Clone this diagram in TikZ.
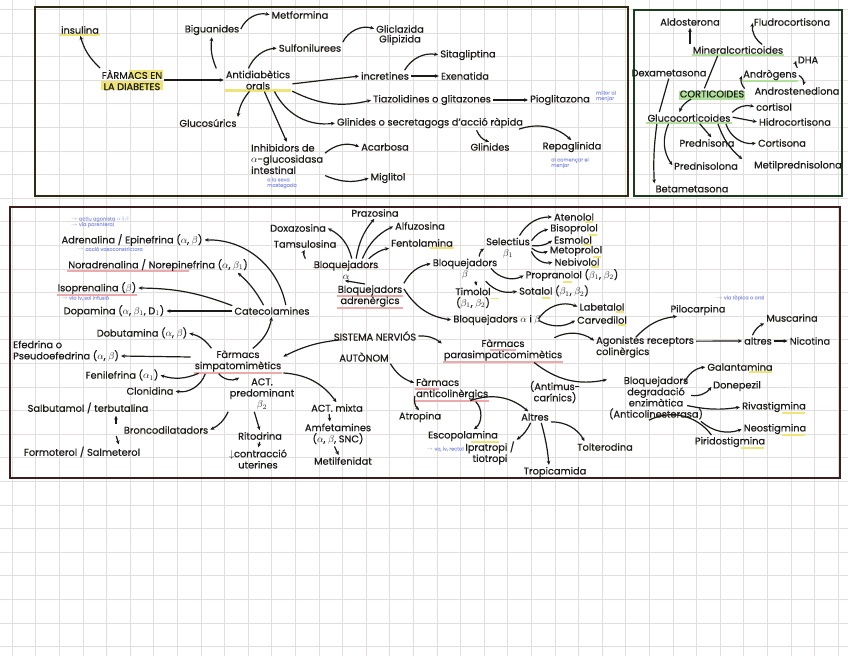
\documentclass[tikz,border=0pt]{standalone}
\usepackage{fontspec}
\setmainfont{Poppins}[FakeBold=0.5]
\usetikzlibrary{arrows.meta,backgrounds}
\definecolor{inkcolor}{RGB}{28, 26, 24}
\definecolor{gridcolor}{RGB}{226, 222, 222}
\definecolor{yellowmark}{RGB}{238, 228, 120}
\definecolor{redmark}{RGB}{236, 170, 170}
\definecolor{greenmark}{RGB}{176, 224, 156}
\definecolor{diabframe}{RGB}{48, 44, 20}
\definecolor{cortframe}{RGB}{30, 60, 30}
\definecolor{snaframe}{RGB}{60, 30, 30}
\definecolor{notecolor}{RGB}{150, 160, 230}

\begin{document}
\begin{tikzpicture}[
    x=1pt, y=-1pt,
    every node/.style={font=\fontsize{9.8}{11.2}\selectfont, inner sep=1pt, align=center, text=inkcolor},
    note/.style={font=\fontsize{5}{5.5}\selectfont, text=notecolor, align=left},
    arr/.style={-{Stealth[length=4pt,width=3.6pt]}, line width=1.2pt, draw=inkcolor, shorten >=1pt, shorten <=1pt},
    lin/.style={line width=1.2pt, draw=inkcolor, shorten >=1pt, shorten <=1pt},
    ymark/.style={line width=2.4pt, draw=yellowmark},
    rmark/.style={line width=1.3pt, draw=redmark},
    gmark/.style={line width=1.8pt, draw=greenmark},
    frame/.style={line width=1.6pt}
]
\useasboundingbox (0,0) rectangle (848,656);
\begin{scope}[on background layer]
\fill[white] (0,0) rectangle (848,656);
\foreach \gx in {0,...,35} \draw[gridcolor, line width=0.9pt] (12.3+23.6*\gx,0) -- (12.3+23.6*\gx,656);
\foreach \gy in {0,...,27} \draw[gridcolor, line width=0.9pt] (0,9.4+23.6*\gy) -- (848,9.4+23.6*\gy);
\end{scope}

\draw[frame, draw=diabframe] (35,7) rectangle (628,196);
\draw[frame, draw=cortframe] (634,10) rectangle (842,196);
\draw[frame, draw=snaframe] (10,207) rectangle (840,478);

\node (insulina) at (80,30) {insulina};
\node (farmacs) at (132,80) {FÀRMACS EN\\LA DIABETES};
\node (antid) at (258,80) {Antidiabètics\\orals};
\node (bigu) at (212,30) {Biguanides};
\node (metf) at (300,15) {Metformina};
\node (sulf) at (310,48) {Sulfonilurees};
\node (glic) at (400,29) {Gliclazida};
\node (glip) at (400,40) {Glipizida};
\node (incr) at (385,76) {incretines};
\node (sita) at (468,55) {Sitagliptina};
\node (exen) at (465,76) {Exenatida};
\node (tiaz) at (432,100) {Tiazolidines o glitazones};
\node (piog) at (560,100) {Pioglitazona};
\node[note] (pionote) at (606,96) {millor al\\menjar};
\node (glsec) at (430,123) {Glinides o secretagogs d'acció ràpida};
\node (glin) at (490,147) {Glinides};
\node (repa) at (572,147) {Repaglinida};
\node[note] (repanote) at (570,163) {al començar el\\menjar};
\node (glucos) at (208,123) {Glucosúrics};
\node[anchor=west, align=left] (inhib) at (250,159) {Inhibidors de\\$\alpha$-glucosidasa\\intestinal};
\node[note] (inhibnote) at (282,183) {a la seva\\mastegada};
\node (acar) at (385,147) {Acarbosa};
\node (migl) at (388,178) {Miglitol};

\begin{scope}[on background layer]
\draw[ymark] (insulina.south west) -- (insulina.south east);
\fill[yellowmark] ([xshift=28pt,yshift=21pt]farmacs.south west) rectangle ([yshift=12pt]farmacs.south east);
\fill[yellowmark] ([yshift=10pt]farmacs.south west) rectangle ([yshift=1pt]farmacs.south east);
\draw[ymark] (antid.south west) -- (antid.south east);
\end{scope}

\draw[arr] (farmacs.north west) to[bend left=15] (insulina.south);
\draw[arr] (farmacs.east) -- (antid.west);
\draw[arr] ([xshift=-8pt]antid.north west) to[bend left=15] (bigu.south);
\draw[arr] (bigu.east) to[bend left=40] (metf.west);
\draw[arr] ([xshift=-10pt]antid.north) to[bend left=30] (sulf.west);
\draw[arr] (sulf.north east) to[bend left=40] (glic.west);
\draw[arr] ([yshift=-4pt]antid.east) -- (incr.west);
\draw[arr] ([xshift=-6pt]incr.north east) to[bend left=35] (sita.west);
\draw[arr] (incr.east) -- (exen.west);
\draw[arr] (antid.south east) to[bend right=20] (tiaz.west);
\draw[arr] (tiaz.east) -- (piog.west);
\draw[arr] ([xshift=16pt]antid.south) to[bend right=35] (glsec.west);
\draw[arr] ([xshift=-48pt]glsec.south east) to[bend right=25] (glin.north);
\draw[arr] ([xshift=-6pt]glsec.south east) to[bend left=30] (repa.north);
\draw[arr] ([xshift=-8pt]antid.south) to[bend right=15] (glucos.north east);
\draw[arr] ([xshift=6pt]antid.south) -- (inhib.north);
\draw[arr] ([yshift=-11pt]inhib.north east) to[bend left=30] (acar.west);
\draw[arr] (inhib.south east) to[bend right=20] (migl.west);

\node (aldo) at (690,22) {Aldosterona};
\node (fludro) at (792,22) {Fludrocortisona};
\node (miner) at (738,50) {Mineralcorticoides};
\node (dha) at (808,60) {DHA};
\node (andro) at (770,75) {Andrògens};
\node (androst) at (797,91) {Androstenediona};
\node (dexa) at (669,73) {Dexametasona};
\node (cortic) at (712,94) {CORTICOIDES};
\node (cortisol) at (774,107) {cortisol};
\node (gluco) at (689,118) {Glucocorticoides};
\node (hidro) at (795,122) {Hidrocortisona};
\node (predn) at (707,143) {Prednisona};
\node (cortisona) at (782,143) {Cortisona};
\node (prednl) at (706,166) {Prednisolona};
\node (metil) at (798,166) {Metilprednisolona};
\node (beta) at (692,189) {Betametasona};

\begin{scope}[on background layer]
\fill[greenmark] ([yshift=8pt]cortic.south west) rectangle ([yshift=-1pt]cortic.south east);
\draw[gmark] (miner.south west) -- (miner.south east);
\draw[gmark] (andro.south west) -- (andro.south east);
\draw[gmark] (gluco.south west) -- (gluco.south east);
\end{scope}

\draw[arr] ([xshift=-48pt]miner.north) -- (aldo.south);
\draw[arr] ([xshift=25pt]miner.north) to[bend left=30] (fludro.west);
\draw[lin] ([xshift=-8pt]cortic.north) -- ([xshift=-20pt]miner.south);
\draw[arr] (cortic.north east) to[bend left=30] (andro.west);
\draw[arr] (andro.north east) to[bend left=30] (dha.west);
\draw[arr] (andro.east) to[bend left=40] ([xshift=6pt]androst.north);
\draw[arr] ([xshift=-20pt]cortic.south) to[bend right=20] ([xshift=-10pt]gluco.north);
\draw[lin] ([xshift=-30pt]gluco.north) -- (dexa.south);
\draw[arr] (gluco.north east) to[bend left=30] (cortisol.west);
\draw[arr] ([yshift=1pt]gluco.east) -- (hidro.west);
\draw[arr] ([xshift=10pt]gluco.south) -- ([xshift=5pt]predn.north);
\draw[arr] ([xshift=-6pt]gluco.south east) to[bend right=40] (cortisona.west);
\draw[arr] ([xshift=-14pt]gluco.south east) to[bend right=15] ([xshift=-10pt]metil.north west);
\draw[arr] ([xshift=-20pt]gluco.south) to[bend right=30] (prednl.west);
\draw[arr] ([xshift=-32pt]gluco.south) to[bend right=5] (beta.north west);

\node (adren) at (132,240) {Adrenalina / Epinefrina ($\alpha$, $\beta$)};
\node (noradr) at (158,265) {Noradrenalina / Norepinefrina ($\alpha$, $\beta_1$)};
\node (isopr) at (97,288) {Isoprenalina ($\beta$)};
\node (dopa) at (114,311) {Dopamina ($\alpha$, $\beta_1$, D$_1$)};
\node (dobu) at (142,333) {Dobutamina ($\alpha$, $\beta$)};
\node (catec) at (272,311) {Catecolamines};
\node[anchor=west, align=left] (efed) at (12,351) {Efedrina o\\Pseudoefedrina ($\alpha$, $\beta$)};
\node (simp) at (238,361) {Fàrmacs\\simpatomimètics};
\node (fenil) at (122,375) {Fenilefrina ($\alpha_1$)};
\node (cloni) at (150,391) {Clonidina};
\node (salbu) at (88,408) {Salbutamol / terbutalina};
\node (actp) at (262,394) {ACT.\\predominant\\$\beta_2$};
\node (bronc) at (166,430) {Broncodilatadors};
\node (formo) at (82,452) {Formoterol / Salmeterol};
\node (rito) at (260,436) {Ritodrina};
\node (contr) at (258,459) {$\downarrow$contracció\\uterines};
\node (actm) at (337,408) {ACT. mixta};
\node (amfe) at (338,434) {Amfetamines\\($\alpha$, $\beta$, SNC)};
\node (metilf) at (343,461) {Metilfenidat};
\node[note] (adrnote) at (100,222) {$\rightarrow$ actiu agonista $\alpha$ i $\beta$\\$\rightarrow$ via parenteral};
\node[note] (noranote) at (110,249) {$\rightarrow$ acció vasoconstrictora};
\node[note] (dopanote) at (85,298) {$\rightarrow$ via iv, sol infusió};

\begin{scope}[on background layer]
\draw[rmark] (simp.south west) -- (simp.south east);
\draw[rmark] ([yshift=1pt]noradr.south west) -- ([yshift=1pt,xshift=-60pt]noradr.south east);
\draw[rmark] (isopr.south west) -- (isopr.south east);
\end{scope}

\draw[arr] ([xshift=14pt]catec.north) to[bend right=40] (adren.east);
\draw[arr] ([xshift=-8pt]catec.north) to[bend right=10] ([xshift=-12pt]noradr.south east);
\draw[arr] (catec.north west) to[bend right=10] (isopr.east);
\draw[arr] (catec.west) -- (dopa.east);
\draw[arr] ([xshift=-26pt]simp.north) to[bend right=20] (dobu.east);
\draw[arr] ([xshift=14pt]simp.north) to[bend right=20] (catec.south);
\draw[arr] ([xshift=-2pt,yshift=4pt]simp.west) -- ([yshift=-5pt]efed.east);
\draw[arr] ([xshift=6pt]simp.south west) to[bend left=20] (fenil.east);
\draw[arr] ([xshift=12pt]simp.south west) to[bend left=40] (cloni.east);
\draw[arr] ([xshift=-20pt]simp.south) to[bend right=40] ([xshift=-22pt]actp.north);
\draw[arr] (simp.south east) to[bend left=25] (actm.north);
\draw[arr] (actp.south west) to[bend left=20] (bronc.east);
\draw[arr] ([xshift=-8pt]actp.south) -- (rito.north);
\draw[arr] (rito.south) -- (contr.north);
\draw[arr] ([xshift=-50pt]bronc.north) -- ([xshift=28pt]salbu.south);
\draw[arr] ([xshift=-50pt]bronc.south) -- ([xshift=37pt]formo.north);
\draw[arr] ([xshift=-8pt]actm.south) -- ([xshift=-8pt]amfe.north);
\draw[arr] ([xshift=-4pt]amfe.south) -- ([xshift=-4pt]metilf.north);

\node (praz) at (375,213) {Prazosina};
\node (doxa) at (298,228) {Doxazosina};
\node (alfu) at (420,226) {Alfuzosina};
\node (tams) at (305,244) {Tamsulosina};
\node (fento) at (422,243) {Fentolamina};
\node (bloqa) at (346,270) {Bloquejadors\\$\alpha$};
\node (bloqadr) at (370,296) {Bloquejadors\\adrenèrgics};
\node (sna) at (375,336) {SISTEMA NERVIÓS};
\node (auton) at (364,357) {AUTÒNOM};
\node (bloqb) at (465,269) {Bloquejadors\\$\beta$};
\node (selec) at (508,248) {Selectius\\$\beta_1$};
\node (aten) at (574,217) {Atenolol};
\node (biso) at (574,229) {Bisoprolol};
\node (esmo) at (573,240) {Esmolol};
\node (meto) at (576,251) {Metoprolol};
\node (nebi) at (577,262) {Nebivolol};
\node (propr) at (572,275) {Propranolol ($\beta_1$, $\beta_2$)};
\node (sota) at (554,291) {Sotalol ($\beta_1$, $\beta_2$)};
\node (timo) at (473,298) {Timolol\\($\beta_1$, $\beta_2$)};
\node (bloqab) at (497,320) {Bloquejadors $\alpha$ i $\beta$};
\node (label) at (602,307) {Labetalol};
\node (carve) at (602,320) {Carvedilol};

\begin{scope}[on background layer]
\draw[rmark] ([yshift=12pt]bloqadr.south west) -- ([yshift=12pt]bloqadr.south east);
\draw[rmark] (bloqadr.south west) -- (bloqadr.south east);
\draw[rmark] ([yshift=13pt]bloqa.south west) -- ([yshift=13pt]bloqa.south east);
\draw[ymark] ([xshift=-24pt]fento.south east) -- (fento.south east);
\foreach \nd in {aten,biso,esmo,meto,nebi,label,carve}
  \draw[ymark, line width=1.8pt] ([xshift=-10pt]\nd.south east) -- ([xshift=-2pt]\nd.south east);
\draw[ymark, line width=1.8pt] ([xshift=-56pt]propr.south east) -- ([xshift=-47pt]propr.south east);
\draw[ymark, line width=1.8pt] ([xshift=-48pt]sota.south east) -- ([xshift=-40pt]sota.south east);
\draw[ymark, line width=1.8pt] ([xshift=18pt,yshift=-12pt]timo.north) -- ([xshift=26pt,yshift=-12pt]timo.north);
\end{scope}

\draw[arr] ([xshift=-4pt]bloqadr.north) -- ([xshift=-2pt]bloqa.south);
\draw[arr] ([xshift=10pt]bloqa.north) to[bend left=15] (praz.south);
\draw[arr] ([xshift=6pt]bloqa.north) to[bend right=25] (doxa.east);
\draw[arr] ([xshift=16pt]bloqa.north) to[bend left=20] (alfu.west);
\draw[arr] ([xshift=-40pt]bloqa.north) to[bend left=30] (tams.south);
\draw[arr] ([xshift=22pt]bloqa.north) to[bend left=15] (fento.south west);
\draw[arr] (bloqadr.north east) to[bend left=25] ([yshift=-6pt]bloqb.north west);
\draw[arr] ([xshift=14pt]bloqb.north) to[bend left=25] (selec.west);
\draw[arr] ([xshift=-12pt]selec.north east) to[bend left=30] (aten.west);
\draw[arr] ([yshift=-5pt]selec.north east) to[bend left=20] (biso.west);
\draw[arr] ([yshift=-9pt]selec.north east) to[bend right=20] (esmo.west);
\draw[arr] ([yshift=-11pt]selec.north east) to[bend right=30] (meto.west);
\draw[arr] ([yshift=-14pt]selec.north east) to[bend right=40] (nebi.west);
\draw[arr] ([xshift=-8pt,yshift=-10pt]bloqb.north east) to[bend right=40] (propr.west);
\draw[arr] ([xshift=20pt]bloqb.south) to[bend right=30] (sota.west);
\draw[arr] ([xshift=10pt]bloqb.south) -- ([xshift=4pt]timo.north);
\draw[arr] ([yshift=8pt]bloqadr.east) to[bend right=25] (bloqab.west);
\draw[arr] ([xshift=-4pt]bloqab.east) to[bend left=40] (label.west);
\draw[arr] ([xshift=-4pt]bloqab.east) to[bend right=30] (carve.west);

\node (parasimp) at (503,350) {Fàrmacs\\parasimpaticomimètics};
\node[anchor=west, align=left] (agon) at (595,347) {Agonistes receptors\\colinèrgics};
\node (altres) at (758,341) {altres};
\node (nicot) at (810,341) {Nicotina};
\node (piloc) at (698,310) {Pilocarpina};
\node (musc) at (792,318) {Muscarina};
\node[note] (pilonote) at (740,298) {$\rightarrow$ via tòpica o oral};
\node (bloqdeg) at (656,398) {Bloquejadors\\degradació\\enzimàtica\\(Anticolinesterasa)};
\node (galan) at (740,367) {Galantamina};
\node (done) at (737,386) {Donepezil};
\node (riva) at (774,407) {Rivastigmina};
\node (neost) at (775,429) {Neostigmina};
\node (pirid) at (730,442) {Piridostigmina};

\begin{scope}[on background layer]
\draw[rmark] (parasimp.south west) -- (parasimp.south east);
\draw[rmark] ([yshift=12pt,xshift=47pt]parasimp.south west) -- ([yshift=12pt,xshift=-47pt]parasimp.south east);
\foreach \nd in {galan,riva,neost,pirid}
  \draw[ymark, line width=1.8pt] ([xshift=-25pt]\nd.south east) -- ([xshift=-2pt]\nd.south east);
\end{scope}

\draw[arr] (sna.east) to[bend left=20] ([yshift=-6pt]parasimp.north west);
\draw[arr] ([xshift=-10pt]parasimp.north east) to[bend left=30] ([yshift=-6pt]agon.north west);
\draw[arr] ([xshift=40pt,yshift=-3pt]agon.north west) to[bend left=20] ([xshift=-20pt]piloc.south);
\draw[arr] ([yshift=-6pt]agon.north east) -- (altres.west);
\draw[arr] (altres.east) -- (nicot.west);
\draw[arr] ([xshift=-6pt]altres.north) to[bend left=20] (musc.south west);
\draw[arr] ([xshift=-30pt]parasimp.south east) to[bend right=25] ([yshift=-4pt]bloqdeg.north west);
\draw[arr] ([xshift=-20pt,yshift=-8pt]bloqdeg.north east) to[bend left=30] (galan.west);
\draw[arr] ([xshift=-14pt,yshift=-20pt]bloqdeg.north east) to[bend right=30] (done.west);
\draw[arr] ([xshift=-18pt,yshift=-30pt]bloqdeg.north east) to[bend right=10] (riva.west);
\draw[arr] ([xshift=-4pt]bloqdeg.south east) to[bend right=30] (neost.west);
\draw[lin] ([xshift=-8pt]bloqdeg.south) to[bend left=40] ([xshift=-18pt]pirid.north);

\node[anchor=west, align=left] (antic) at (415,389) {Fàrmacs\\anticolinèrgics};
\node (antim) at (555,392) {(Antimus-\\carínics)};
\node (atrop) at (420,417) {Atropina};
\node (escop) at (463,436) {Escopolamina};
\node (altres2) at (535,417) {Altres};
\node (iprat) at (490,453) {Ipratropi /\\tiotropi};
\node (tolte) at (605,447) {Tolterodina};
\node (tropi) at (555,472) {Tropicamida};
\node[note] (escopnote) at (445,449) {$\rightarrow$ vo, iv, rectal};

\begin{scope}[on background layer]
\draw[rmark] ([yshift=12pt]antic.south west) -- ([yshift=12pt,xshift=-50pt]antic.south east);
\draw[rmark] (antic.south west) -- (antic.south east);
\draw[ymark] ([xshift=-28pt]escop.south east) -- (escop.south east);
\end{scope}

\draw[arr] ([xshift=8pt,yshift=2pt]sna.south west) to[bend right=10] ([yshift=4pt]simp.east);
\draw[arr] (auton.south east) to[bend right=20] ([yshift=-6pt]antic.north west);
\draw[arr] ([yshift=6pt]antic.south west) to[bend right=30] (atrop.north);
\draw[arr] ([xshift=60pt]antic.south west) to[bend left=50] ([xshift=10pt]escop.north);
\draw[arr] ([xshift=-20pt]antic.south east) to[bend left=30] ([xshift=-6pt]altres2.north);
\draw[arr] ([xshift=-4pt]altres2.south) to[bend left=15] (iprat.north east);
\draw[arr] ([xshift=6pt]altres2.south) to[bend left=5] ([xshift=-6pt]tropi.north);
\draw[arr] (altres2.south east) to[bend left=30] ([xshift=-20pt]tolte.north);
\end{tikzpicture}
\end{document}
